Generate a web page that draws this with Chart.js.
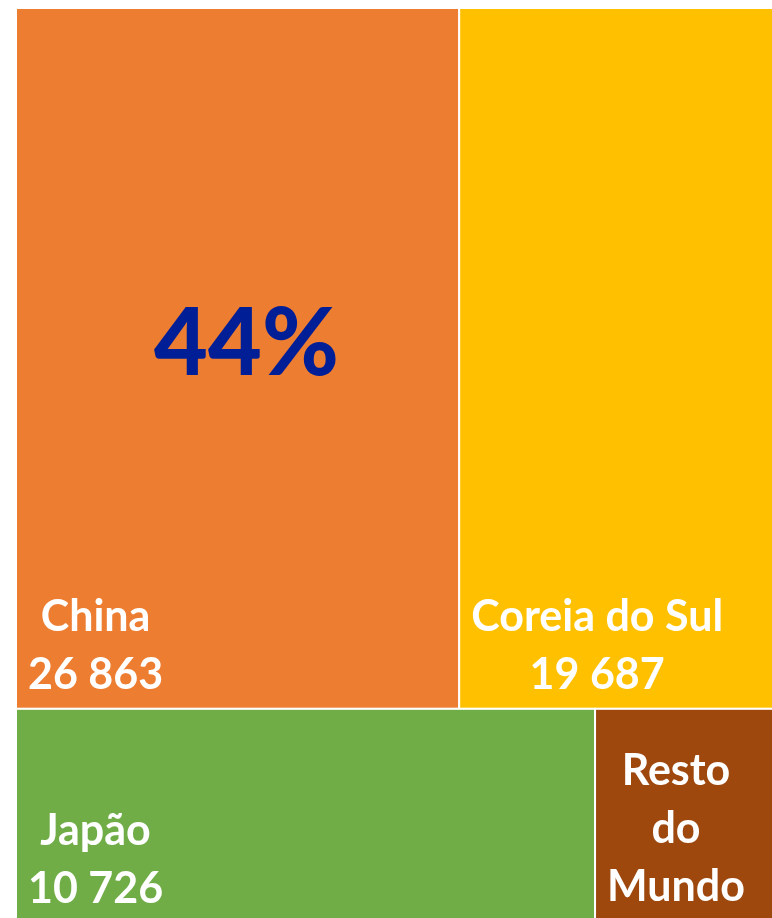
<!DOCTYPE html>
<html>
<head>
<meta charset="utf-8">
<script src="https://cdn.jsdelivr.net/npm/chart.js@4/dist/chart.umd.min.js"></script>
<style>
  html, body { margin: 0; padding: 0; background: #ffffff; overflow: hidden; width: 772px; height: 918px; }
  #wrap { position: absolute; left: 0; top: 0; width: 800px; height: 930px; }
</style>
</head>
<body>
<div id="wrap"><canvas id="c" width="800" height="930"></canvas></div>
<script>
// ---- data ----
const categories = ["China", "Coreia do Sul", "Japão", "Resto do Mundo"];
const values = [26863, 19687, 10726, 3500];   // Resto do Mundo estimated from area (its value is not printed)
const colors = ["#ED7D31", "#FFC000", "#70AD47", "#9E480E"];
const highlightIndex = 0;   // item whose share is shown in large type
const minShareForValue = 0.10; // small cells show only their name

// ---- layout: rows of two items, heights & widths proportional to values ----
function layoutRows(vals) {
  const total = vals.reduce((a, b) => a + b, 0);
  const rects = [];
  let y0 = 0;
  for (let i = 0; i < vals.length; i += 2) {
    const row = vals.slice(i, i + 2);
    const rowSum = row.reduce((a, b) => a + b, 0);
    const h = rowSum / total;
    let x0 = 0;
    row.forEach((v, j) => {
      const w = v / rowSum;
      rects[i + j] = { x0: x0, x1: x0 + w, y0: y0, y1: y0 + h };
      x0 += w;
    });
    y0 += h;
  }
  return rects;
}
const cells = layoutRows(values);
const totalValue = values.reduce((a, b) => a + b, 0);

function fmt(n) { return String(n).replace(/\B(?=(\d{3})+(?!\d))/g, " "); }

function wrapText(ctx, text, maxW) {
  const words = text.split(" ");
  const lines = [];
  let cur = "";
  words.forEach(w => {
    const t = cur ? cur + " " + w : w;
    if (ctx.measureText(t).width <= maxW || !cur) cur = t;
    else { lines.push(cur); cur = w; }
  });
  if (cur) lines.push(cur);
  return lines;
}

const treemapPlugin = {
  id: "treemap",
  afterDatasetsDraw(chart) {
    const ctx = chart.ctx;
    const xs = chart.scales.x, ys = chart.scales.y;
    ctx.save();
    cells.forEach((c, i) => {
      const L = xs.getPixelForValue(c.x0), R = xs.getPixelForValue(c.x1);
      const T = ys.getPixelForValue(c.y0), B = ys.getPixelForValue(c.y1);
      ctx.fillStyle = colors[i];
      ctx.fillRect(L, T, R - L, B - T);
      ctx.strokeStyle = "#ffffff";
      ctx.lineWidth = 2;
      ctx.strokeRect(L, T, R - L, B - T);

      // labels
      ctx.font = "bold 43px Lato";
      ctx.fillStyle = "#ffffff";
      ctx.textAlign = "center";
      ctx.textBaseline = "middle";
      const share = values[i] / totalValue;
      const lines = wrapText(ctx, categories[i], (R - L) * 0.8);
      if (share >= minShareForValue) lines.push(fmt(values[i]));
      const widest = Math.max(...lines.map(l => ctx.measureText(l).width));
      const cx = L + 12 + widest / 2;
      const lh = 58;
      const firstY = (share >= minShareForValue) ? B - 34 - (lines.length - 1) * lh : T + 62;
      lines.forEach((l, k) => {
        ctx.fillText(l, cx, firstY + k * lh);
      });

      if (i === highlightIndex) {
        ctx.font = "900 93px Lato";
        ctx.fillStyle = "#001E96";
        const pct = Math.round(share * 100) + "%";
        ctx.fillText(pct, L + (R - L) * 0.52, T + (B - T) * 0.481);
      }
    });
    ctx.restore();
  }
};

new Chart(document.getElementById("c"), {
  type: "scatter",
  data: { datasets: [{ data: [], pointRadius: 0 }] },
  options: {
    responsive: false,
    animation: false,
    layout: { padding: { left: 16, top: 8, right: 16, bottom: 7 } },
    scales: {
      x: { type: "linear", min: 0, max: 1, display: false },
      y: { type: "linear", min: 0, max: 1, reverse: true, display: false }
    },
    plugins: { legend: { display: false }, tooltip: { enabled: false } }
  },
  plugins: [treemapPlugin]
});
</script>
</body>
</html>
